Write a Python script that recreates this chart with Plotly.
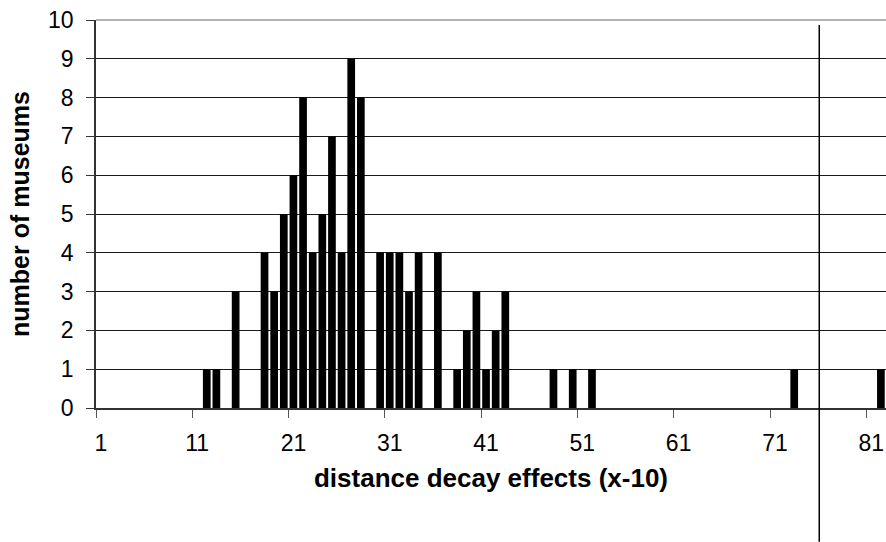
import plotly.graph_objects as go

# categories 1..82 (distance decay effects, x-10)
categories = [str(i) for i in range(1, 83)]

# number of museums per category
counts = [
    0, 0, 0, 0, 0, 0, 0, 0, 0, 0,      # 1-10
    0, 1, 1, 0, 3, 0, 0, 4, 3, 5,      # 11-20
    6, 8, 4, 5, 7, 4, 9, 8, 0, 4,      # 21-30
    4, 4, 3, 4, 0, 4, 0, 1, 2, 3,      # 31-40
    1, 2, 3, 0, 0, 0, 0, 1, 0, 1,      # 41-50
    0, 1, 0, 0, 0, 0, 0, 0, 0, 0,      # 51-60
    0, 0, 0, 0, 0, 0, 0, 0, 0, 0,      # 61-70
    0, 0, 1, 0, 0, 0, 0, 0, 0, 0,      # 71-80
    0, 1,                              # 81-82
]

y_ticks = list(range(0, 11))

FONT = "Liberation Sans, Arial, sans-serif"

fig = go.Figure()
fig.add_trace(go.Bar(
    x=categories,
    y=counts,
    marker=dict(color="#000000", line=dict(width=0)),
    width=0.8,
    showlegend=False,
))

fig.update_layout(
    width=886,
    height=542,
    margin=dict(l=96, r=0, t=20, b=134),
    paper_bgcolor="white",
    plot_bgcolor="white",
    font=dict(family=FONT, size=23, color="#000"),
    bargap=0.2,
    xaxis=dict(
        type="category",
        range=[-0.5, 81.53],
        automargin=False,
        tickmode="linear",
        tick0=0,
        dtick=10,
        tickangle=0,
        tickson="boundaries",
        ticks="outside",
        ticklen=8,
        tickcolor="#555",
        tickwidth=1,
        showgrid=False,
        showline=True,
        linecolor="#333",
        linewidth=1.5,
        ticklabelstandoff=14,
        tickfont=dict(family=FONT, size=23),
        title=dict(text="<b>distance decay effects (x-10)</b>",
                   font=dict(family=FONT, size=26), standoff=13),
    ),
    yaxis=dict(
        range=[0, 10],
        automargin=False,
        tickvals=y_ticks,
        ticks="outside",
        ticklen=8,
        tickcolor="#333",
        showgrid=True,
        gridcolor="#1a1a1a",
        gridwidth=1,
        showline=True,
        linecolor="#333",
        linewidth=1.5,
        zeroline=False,
        ticklabelstandoff=8,
        tickfont=dict(family=FONT, size=23),
        title=dict(text="<b>number of museums</b>",
                   font=dict(family=FONT, size=25), standoff=11),
    ),
    shapes=[
        dict(type="line", xref="x", yref="paper",
             x0=74.6, x1=74.6, y0=0.987, y1=-0.345,
             line=dict(color="#000", width=1.5)),
        dict(type="line", xref="paper", yref="paper",
             x0=0, x1=1, y0=1, y1=1,
             line=dict(color="#999", width=1.5), layer="above"),
    ],
)

fig.write_html(
    "out.html",
    config={"displayModeBar": False},
    post_script="document.body.style.margin='0';document.body.style.overflow='hidden';",
)
